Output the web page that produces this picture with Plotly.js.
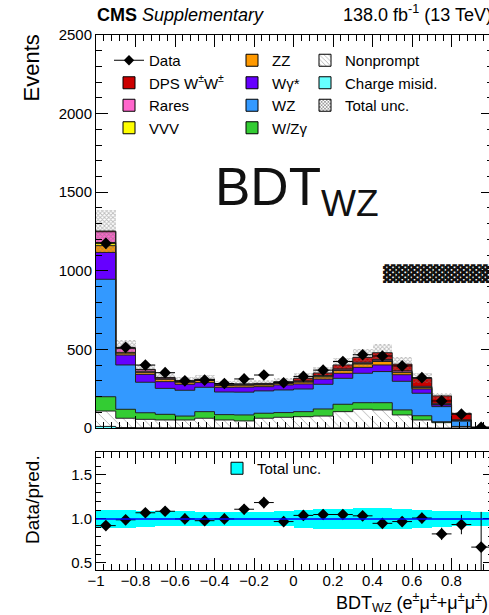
<!DOCTYPE html>
<html><head><meta charset="utf-8">
<script src="https://cdn.plot.ly/plotly-3.0.1.min.js"></script>
<style>html,body{margin:0;padding:0;background:#fff;overflow:hidden}#chart{width:493px;height:615px}</style>
</head><body><div id="chart"></div>
<script>
// ---- data ----
const binEdges = [-1,-0.9,-0.8,-0.7,-0.6,-0.5,-0.4,-0.3,-0.2,-0.1,0,0.1,0.2,0.3,0.4,0.5,0.6,0.7,0.8,0.9,1];
const chargeMisid = [10,3,2,2,2,2,1,1,1,1,1,1,1,1,1,1,1,0,0,0];
const nonprompt   = [98,59,53,49,49,60,50,44,61,67,71,75,103,118,114,82,50,34,8,0.5];
const wzgamma     = [91,57,42,36,25,42,34,38,32,30,32,45,47,42,46,32,27,6,2,0.2];
const wz          = [747,282,194,165,164,155,144,145,142,144,144,157,165,187,198,182,143,96,34,1.5];
const wgstar      = [171,63,50,43,38,30,30,32,27,32,32,33,32,38,42,42,27,11,3,0.2];
const zz          = [43,12,13,15,13,13,11,12,11,10,12,14,18,21,22,13,8,3,1,0.1];
const vvv         = [20,5,4,3,3,3,3,3,3,3,3,4,4,4,5,4,3,2,1,0.1];
const rares       = [68,24,12,6,3,3,3,3,4,4,5,5,6,7,8,8,6,5,3,0.4];
const dps         = [5,2,3,3,2,2,3,3,3,4,16,16,25,31,43,42,51,47,41,3];
const dataCounts  = [1175,513,400,352,300,305,283,312,337,288,328,368,423,466,458,395,320,172,88,4];
const uncRel      = [0.105,0.10,0.09,0.085,0.085,0.08,0.08,0.08,0.08,0.085,0.10,0.11,0.115,0.12,0.12,0.11,0.10,0.09,0.085,0.08];
const ratioVals   = [0.924,0.99,1.07,1.087,1.0,0.98,1.0,1.11,1.186,0.97,1.04,1.05,1.05,1.035,0.95,0.97,1.01,0.83,0.936,0.68];
const ratioErr    = [0.03,0.045,0.05,0.055,0.06,0.06,0.06,0.06,0.065,0.06,0.06,0.055,0.05,0.05,0.045,0.05,0.06,0.07,0.11,0.4];
const yTicksMain  = [0,500,1000,1500,2000,2500];
const xTickVals   = [-1,-0.8,-0.6,-0.4,-0.2,0,0.2,0.4,0.6,0.8];

// ---- build ----
const nb = binEdges.length-1;
const centers = [], widths = [];
for (let i=0;i<nb;i++){ centers.push((binEdges[i]+binEdges[i+1])/2); widths.push(binEdges[i+1]-binEdges[i]); }

const layers = [
  {name:'Charge misid.', v:chargeMisid, color:'#66ffff', leg:'legend3', rank:2},
  {name:'Nonprompt', v:nonprompt, color:'#ffffff', leg:'legend3', rank:1, pattern:{shape:'\\', fgcolor:'#aaaaaa', size:7, solidity:0.12}},
  {name:'W/Z\u03b3', v:wzgamma, color:'#33cc33', leg:'legend2', rank:4},
  {name:'WZ', v:wz, color:'#3399ff', leg:'legend2', rank:3},
  {name:'W\u03b3*', v:wgstar, color:'#6600ff', leg:'legend2', rank:2},
  {name:'ZZ', v:zz, color:'#ff9900', leg:'legend2', rank:1},
  {name:'VVV', v:vvv, color:'#ffff00', leg:'legend', rank:4},
  {name:'Rares', v:rares, color:'#ff66cc', leg:'legend', rank:3},
  {name:'DPS W<sup>\u00b1</sup>W<sup>\u00b1</sup>', v:dps, color:'#cc0000', leg:'legend', rank:2}
];

const traces = [];
let cum = new Array(nb).fill(0);
const tops = [];
layers.forEach(L=>{
  const base = cum.slice();
  const marker = {color:L.color, line:{width:0}};
  if (L.pattern) marker.pattern = L.pattern;
  traces.push({type:'bar', x:centers, y:L.v, base:base, width:widths, marker:marker,
    xaxis:'x', yaxis:'y', showlegend:false, hoverinfo:'skip'});
  cum = cum.map((c,i)=>c+L.v[i]);
  tops.push(cum.slice());
});
const total = cum;
const unc = total.map((t,i)=>t*uncRel[i]);

// total uncertainty overlay
traces.push({type:'bar', x:centers, y:unc.map(u=>2*u), base:total.map((t,i)=>t-unc[i]), width:widths,
  marker:{color:'rgba(0,0,0,0)', line:{width:0}, pattern:{shape:'x', fgcolor:'#777777', size:3, solidity:0.5, fillmode:'overlay'}},
  xaxis:'x', yaxis:'y', showlegend:false, hoverinfo:'skip'});

// step outlines
tops.forEach(t=>{
  traces.push({type:'scatter', mode:'lines', x:binEdges, y:t.concat([t[nb-1]]), line:{shape:'hv', color:'#222', width:1},
    xaxis:'x', yaxis:'y', showlegend:false, hoverinfo:'skip'});
});

// data
traces.push({type:'scatter', mode:'markers', x:centers, y:dataCounts,
  error_x:{type:'data', array:widths.map(w=>w/2), color:'#000', thickness:1, width:0},
  error_y:{type:'data', array:dataCounts.map(d=>Math.sqrt(d)), color:'#000', thickness:1, width:0},
  marker:{symbol:'diamond', size:9, color:'#000'}, xaxis:'x', yaxis:'y', showlegend:false, hoverinfo:'skip'});

// legend entries
traces.push({type:'scatter', mode:'lines+markers', x:[null], y:[null], name:'Data', legend:'legend', legendrank:1,
  line:{color:'#000', width:1}, marker:{symbol:'diamond', size:8, color:'#000'}, xaxis:'x', yaxis:'y'});
layers.forEach(L=>{
  const marker = {color:L.color, line:{width:1, color:'#000'}};
  if (L.pattern) marker.pattern = {shape:'\\', fgcolor:'#999', size:4, solidity:0.2};
  traces.push({type:'bar', x:[null], y:[null], name:L.name, legend:L.leg, legendrank:L.rank, marker:marker, xaxis:'x', yaxis:'y'});
});
traces.push({type:'bar', x:[null], y:[null], name:'Total unc.', legend:'legend3', legendrank:3,
  marker:{color:'#ffffff', line:{width:1,color:'#000'}, pattern:{shape:'x', fgcolor:'#777', size:3, solidity:0.45}}, xaxis:'x', yaxis:'y'});

// ratio panel
traces.push({type:'bar', x:centers, y:uncRel.map(u=>2*u), base:uncRel.map(u=>1-u), width:widths,
  marker:{color:'#00ffff', line:{width:0}}, xaxis:'x2', yaxis:'y2', showlegend:false, hoverinfo:'skip'});
traces.push({type:'scatter', mode:'markers', x:centers, y:ratioVals,
  error_x:{type:'data', array:widths.map(w=>w/2), color:'#000', thickness:1, width:0},
  error_y:{type:'data', array:ratioErr, color:'#000', thickness:1, width:0},
  marker:{symbol:'diamond', size:9, color:'#000'}, xaxis:'x2', yaxis:'y2', showlegend:false, hoverinfo:'skip'});
traces.push({type:'bar', x:[null], y:[null], name:'Total unc.', legend:'legend4',
  marker:{color:'#00ffff', line:{width:1,color:'#000'}}, xaxis:'x2', yaxis:'y2'});

const F = 'Liberation Sans, Arial, sans-serif';
const W=493, H=615, mL=96, mR=0, mT=35, mB=45;
const pw = W-mL-mR, ph = H-mT-mB;
const px = v=>(v-mL)/pw, py = v=>(H-mB-v)/ph;

const axCommon = {showline:true, linecolor:'#000', linewidth:1, mirror:'ticks', ticks:'inside', tickcolor:'#000',
  ticklen:12, tickwidth:1, showgrid:false, zeroline:false, tickfont:{family:F, size:15, color:'#000'}};

const legBase = {bgcolor:'rgba(0,0,0,0)', borderwidth:0, font:{family:F, size:15, color:'#000'},
  xref:'paper', yref:'paper', xanchor:'left', yanchor:'top', traceorder:'normal', tracegroupgap:0};

const xr = [-1, 1.01];
const layout = {
  width:W, height:H, margin:{l:mL, r:mR, t:mT, b:mB}, paper_bgcolor:'#fff', plot_bgcolor:'#fff',
  barmode:'overlay', bargap:0, showlegend:true,
  xaxis: Object.assign({}, axCommon, {domain:[0,1], range:xr, anchor:'y', showticklabels:false,
    tickvals:xTickVals, minor:{dtick:0.04, tick0:-1, ticks:'inside', ticklen:6, tickcolor:'#000'}}),
  yaxis: Object.assign({}, axCommon, {domain:[py(428),1], range:[0,2500], anchor:'x', tickvals:yTicksMain,
    minor:{dtick:100, ticks:'inside', ticklen:6, tickcolor:'#000'}}),
  xaxis2: Object.assign({}, axCommon, {domain:[0,1], range:xr, anchor:'y2', tickvals:xTickVals, ticklabelstandoff:-3,
    minor:{dtick:0.04, tick0:-1, ticks:'inside', ticklen:6, tickcolor:'#000'}}),
  yaxis2: Object.assign({}, axCommon, {domain:[0,py(452)], range:[0.42,1.76], anchor:'x2', tickvals:[0.5,1.0,1.5], tickformat:'.1f', ticklen:10,
    minor:{dtick:0.1, ticks:'inside', ticklen:5, tickcolor:'#000'}}),
  legend: Object.assign({}, legBase, {x:px(109), y:py(44)}),
  legend2: Object.assign({}, legBase, {x:px(232), y:py(44)}),
  legend3: Object.assign({}, legBase, {x:px(305), y:py(44)}),
  legend4: Object.assign({}, legBase, {x:px(217), y:py(452)}),
  shapes:[{type:'line', xref:'x2', yref:'y2', x0:xr[0], x1:xr[1], y0:1, y1:1, line:{color:'#0000ff', width:1.5}, layer:'above'}],
  annotations:[
    {text:'<b>CMS</b> <i>Supplementary</i>', xref:'paper', yref:'paper', x:px(95), y:py(27), xanchor:'left', yanchor:'bottom', showarrow:false, font:{family:F, size:18, color:'#000'}},
    {text:'138.0 fb<sup>-1</sup> (13 TeV)', xref:'paper', yref:'paper', x:px(494), y:py(27), xanchor:'right', yanchor:'bottom', showarrow:false, font:{family:F, size:18, color:'#000'}},
    {text:'Events', xref:'paper', yref:'paper', x:px(31), y:py(33), xanchor:'center', yanchor:'top', textangle:-90, showarrow:false, font:{family:F, size:22, color:'#000'}},
    {text:'Data/pred.', xref:'paper', yref:'paper', x:px(32), y:py(500), xanchor:'center', yanchor:'middle', textangle:-90, showarrow:false, font:{family:F, size:19, color:'#000'}},
    {text:'BDT<sub>WZ</sub> (e<sup>\u00b1</sup>\u03bc<sup>\u00b1</sup>+\u03bc<sup>\u00b1</sup>\u03bc<sup>\u00b1</sup>)', xref:'paper', yref:'paper', x:px(490), y:py(617), xanchor:'right', yanchor:'bottom', showarrow:false, font:{family:F, size:18, color:'#000'}},
    {text:'BDT<sub>WZ</sub>', xref:'paper', yref:'paper', x:px(213), y:py(190), xanchor:'left', yanchor:'middle', showarrow:false, font:{family:F, size:53, color:'#111'}},
    {text:'\u2593\u2593\u2593\u2593\u2593\u2593\u2593\u2593\u2593\u2593', xref:'paper', yref:'paper', x:px(381), y:py(273), xanchor:'left', yanchor:'middle', showarrow:false, font:{family:'DejaVu Sans', size:16, color:'#111'}}
  ]
};

Plotly.newPlot('chart', traces, layout, {staticPlot:true, displayModeBar:false});
</script>
</body></html>
